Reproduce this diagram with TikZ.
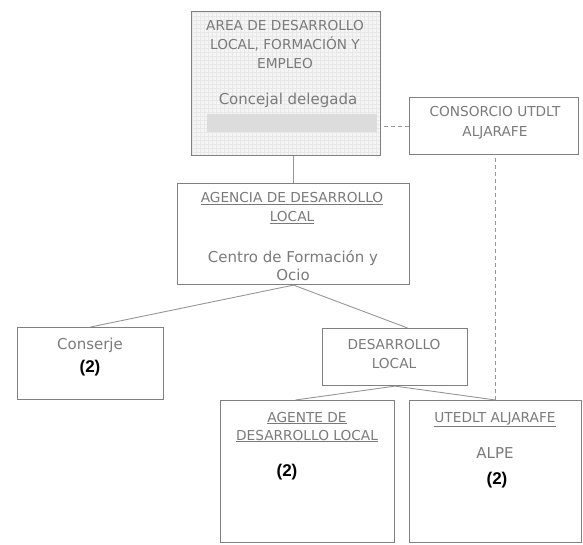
\documentclass[tikz,border=0pt]{standalone}
\usepackage{fontspec}
\setmainfont{DejaVu Sans}
\newfontfamily\numfont{Liberation Sans}
\definecolor{txtgray}{RGB}{122,122,122}
\definecolor{boxgray}{RGB}{128,128,128}
\definecolor{linegray}{RGB}{150,150,150}
\definecolor{areafill}{RGB}{245,245,245}
\definecolor{gridc}{RGB}{232,232,232}
\definecolor{blurc}{RGB}{220,220,220}
\tikzset{
  box/.style={draw=boxgray, line width=1.1pt, anchor=north west, inner sep=0pt},
  caps/.style={text=txtgray, anchor=base, inner sep=0pt, font=\fontsize{13.7}{19}\selectfont},
  mixed/.style={text=txtgray, anchor=base, inner sep=0pt, font=\fontsize{15}{18}\selectfont},
  num/.style={text=black, anchor=base, inner sep=0pt, font=\numfont\bfseries\fontsize{17}{20}\selectfont},
  conn/.style={draw=linegray, line width=0.9pt},
  dconn/.style={draw=linegray, line width=0.9pt, dash pattern=on 4pt off 3pt}
}
\begin{document}
\begin{tikzpicture}[x=1pt,y=-1pt]
\useasboundingbox (0,0) rectangle (583,545);
% area box background with grid
\fill[areafill] (191,11) rectangle (380,155);
\draw[gridc, line width=0.35pt, step=4pt] (191,11) grid (380,155);
\fill[blurc] (207,114) rectangle (377,132);
% boxes
\node[box, minimum width=189pt, minimum height=144pt] (area) at (191,11) {};
\node[box, minimum width=169pt, minimum height=57pt] (consorcio) at (409,97) {};
\node[box, minimum width=232pt, minimum height=101pt] (agencia) at (177,183) {};
\node[box, minimum width=146pt, minimum height=72pt] (conserje) at (17,327) {};
\node[box, minimum width=145pt, minimum height=57pt] (desarrollo) at (322,328) {};
\node[box, minimum width=174pt, minimum height=142pt] (agente) at (220,400) {};
\node[box, minimum width=172pt, minimum height=142pt] (utedlt) at (409,400) {};
% texts
\node[caps] (a1) at (285,31) {AREA DE DESARROLLO};
\node[caps] (a2) at (285,50) {LOCAL, FORMACIÓN Y};
\node[caps] (a3) at (285,69) {EMPLEO};
\node[mixed] (a4) at (288,105) {Concejal delegada};
\node[caps] (c1) at (495,117) {CONSORCIO UTDLT};
\node[caps] (c2) at (495,137) {ALJARAFE};
\node[caps] (g1) at (292,203) {\underline{AGENCIA DE DESARROLLO}};
\node[caps] (g2) at (292,222) {\underline{LOCAL}};
\node[mixed] (g3) at (293,262) {Centro de Formación y};
\node[mixed] (g4) at (293,280) {Ocio};
\node[mixed] (s1) at (90,349) {Conserje};
\node[num] (s2) at (90,372) {(2)};
\node[caps] (d1) at (394,349) {DESARROLLO};
\node[caps] (d2) at (394,368) {LOCAL};
\node[caps] (e1) at (307,422) {\underline{AGENTE DE}};
\node[caps] (e2) at (307,440) {\underline{DESARROLLO LOCAL}};
\node[num] (e3) at (287,476) {(2)};
\node[caps] (u1) at (495,422) {\underline{UTEDLT ALJARAFE}};
\node[mixed] (u2) at (495,458) {ALPE};
\node[num] (u3) at (497,484) {(2)};
% connectors
\draw[conn] (agencia.north) -- (agencia.north |- area.south);
\draw[dconn] (consorcio.west) -- (consorcio.west -| area.east);
\draw[dconn] (utedlt.north) -- (utedlt.north |- consorcio.south);
\draw[conn] (agencia.south) -- (conserje.north);
\draw[conn] (agencia.south) -- ([xshift=12.5pt]desarrollo.north);
\draw[conn] (desarrollo.south) -- ([xshift=-12pt]agente.north);
\draw[conn] (desarrollo.south) -- (utedlt.north);
\end{tikzpicture}
\end{document}
